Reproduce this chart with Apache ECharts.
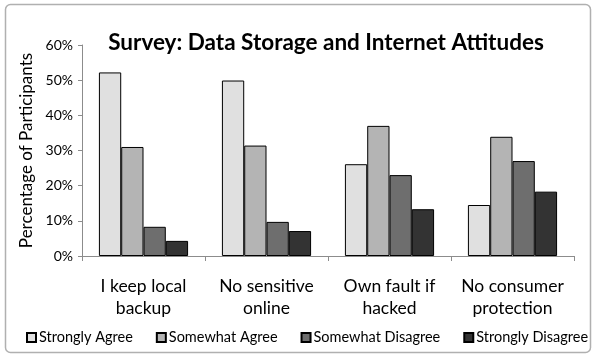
<!DOCTYPE html>
<html>
<head>
<meta charset="utf-8">
<script src="https://cdn.jsdelivr.net/npm/echarts@6/dist/echarts.min.js"></script>
<style>
  html, body { margin: 0; padding: 0; background: #fff; }
  #chart { width: 595px; height: 358px; }
</style>
</head>
<body>
<div id="chart"></div>
<script>
// Survey responses per statement (fraction of participants)
const categories = ['I keep local\nbackup', 'No sensitive\nonline', 'Own fault if\nhacked', 'No consumer\nprotection'];
const seriesNames = ['Strongly Agree', 'Somewhat Agree', 'Somewhat Disagree', 'Strongly Disagree'];
const stronglyAgree    = [0.522, 0.499, 0.261, 0.145];
const somewhatAgree    = [0.310, 0.314, 0.370, 0.339];
const somewhatDisagree = [0.083, 0.097, 0.230, 0.270];
const stronglyDisagree = [0.043, 0.071, 0.133, 0.183];
const yTicks = [0, 0.1, 0.2, 0.3, 0.4, 0.5, 0.6];

const fills = ['#e0e0e0', '#b4b4b4', '#6e6e6e', '#333333'];
const values = [stronglyAgree, somewhatAgree, somewhatDisagree, stronglyDisagree];
const font = 'Lato, "Open Sans", sans-serif';

const chart = echarts.init(document.getElementById('chart'), null, { renderer: 'canvas' });
chart.setOption({
  animation: false,
  textStyle: { fontFamily: font },
  graphic: [{
    type: 'rect',
    shape: { x: 5.5, y: 4.5, width: 585, height: 348, r: 5 },
    style: { fill: 'none', stroke: '#b0b0b0', lineWidth: 1.5 },
    z: -1
  }],
  title: {
    text: 'Survey: Data Storage and Internet Attitudes',
    left: 321, top: 26, textAlign: 'center',
    textStyle: { fontFamily: font, fontWeight: 'bold', fontSize: 22.5, color: '#000' }
  },
  legend: {
    data: seriesNames,
    bottom: 13, left: 26, padding: 0,
    icon: 'rect', itemWidth: 9, itemHeight: 9, itemGap: 23,
    textStyle: { fontFamily: font, fontSize: 14.5, color: '#000', padding: [0, 0, 0, -2] }
  },
  grid: { left: 82, right: 21, top: 45, bottom: 102 },
  xAxis: {
    type: 'category',
    data: categories,
    axisLine: { lineStyle: { color: '#8c8c8c', width: 1 } },
    axisTick: { show: true, length: 5, lineStyle: { color: '#8c8c8c' } },
    axisLabel: { interval: 0, fontFamily: font, fontSize: 17.5, color: '#000', margin: 19, lineHeight: 22 }
  },
  yAxis: {
    type: 'value',
    min: yTicks[0], max: yTicks[yTicks.length - 1], interval: 0.1,
    name: 'Percentage of Participants',
    nameLocation: 'middle', nameGap: 47,
    nameTextStyle: { fontFamily: font, fontSize: 17, color: '#000' },
    axisLine: { show: true, lineStyle: { color: '#8c8c8c', width: 1 } },
    axisTick: { show: true, length: 4, lineStyle: { color: '#8c8c8c' } },
    splitLine: { show: false },
    axisLabel: {
      fontFamily: font, fontSize: 14, color: '#000', margin: 9,
      formatter: v => Math.round(v * 100) + '%'
    }
  },
  series: seriesNames.map((name, i) => ({
    name,
    type: 'bar',
    data: values[i],
    barGap: '0%',
    barCategoryGap: '27.5%',
    itemStyle: { color: fills[i], borderColor: '#000', borderWidth: 1 }
  }))
});
</script>
</body>
</html>
